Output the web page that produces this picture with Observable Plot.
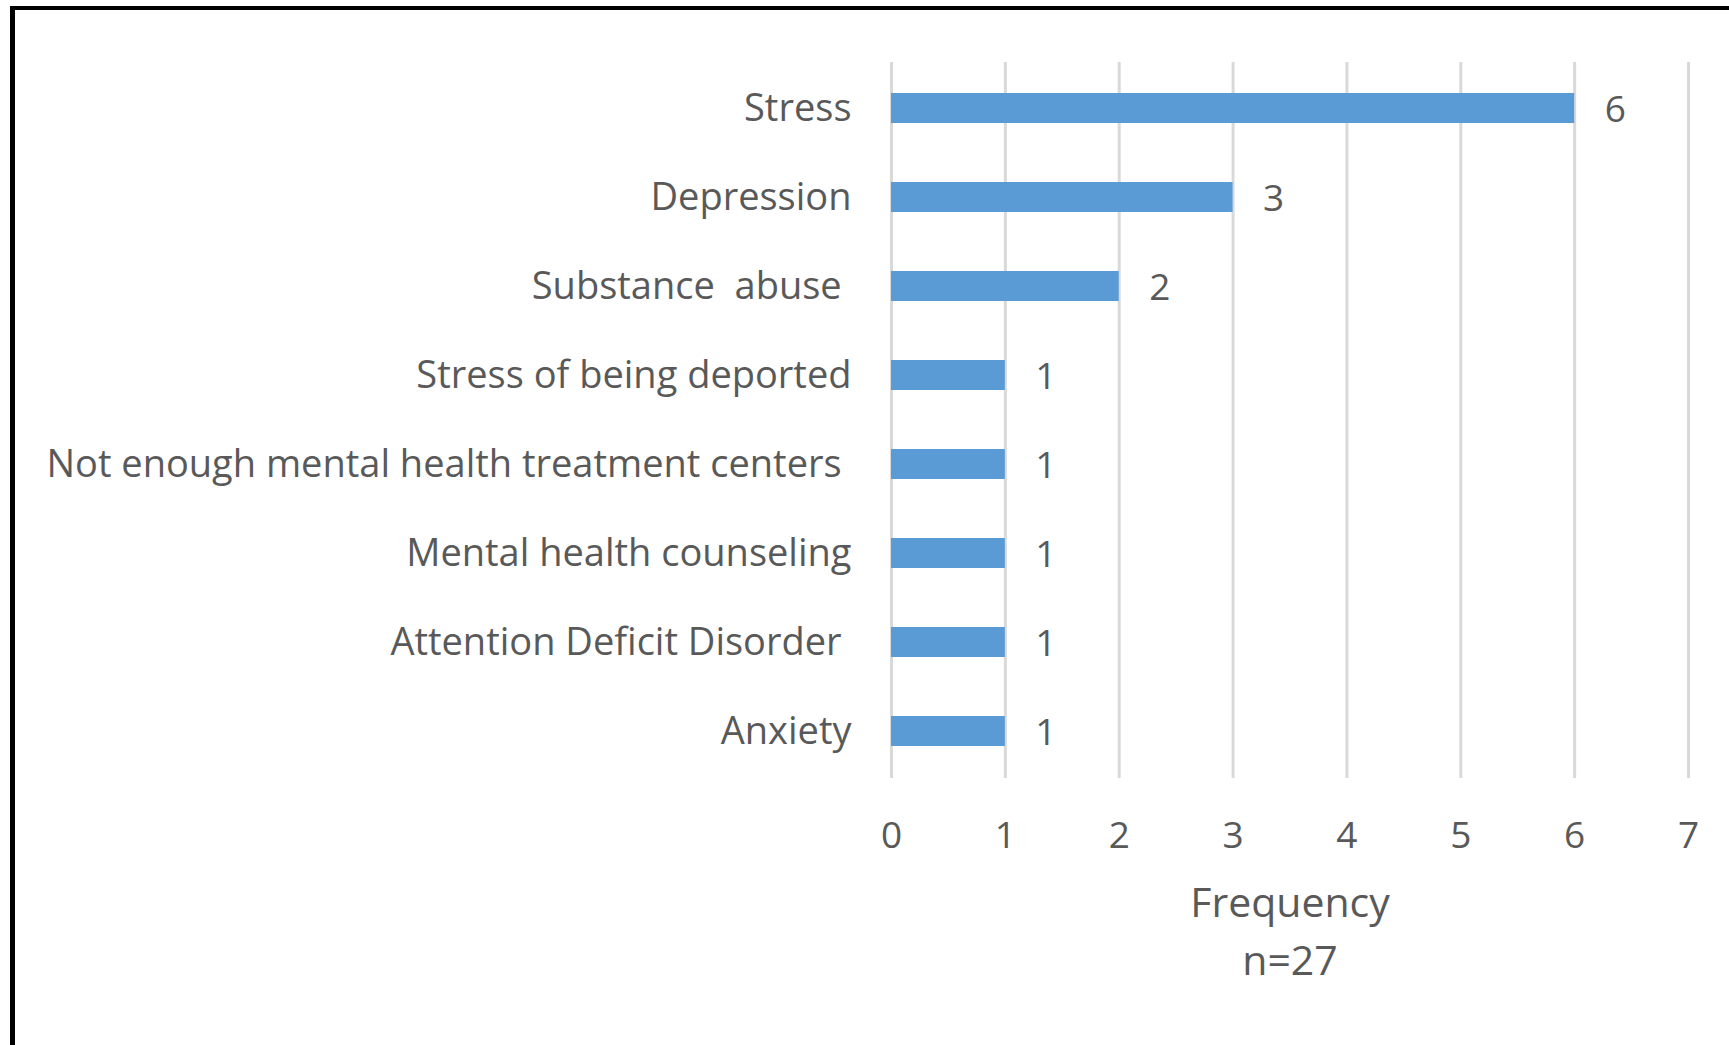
<!DOCTYPE html>
<html>
<head>
<meta charset="utf-8">
<script src="https://cdn.jsdelivr.net/npm/d3@7"></script>
<script src="https://cdn.jsdelivr.net/npm/@observablehq/plot@0.6"></script>
<style>
  html, body { margin: 0; padding: 0; background: #fff; overflow: hidden; }
  #frame {
    position: absolute; left: 10px; top: 6px; width: 1760px; height: 1100px;
    border-left: 5px solid #000; border-top: 4px solid #000; box-sizing: border-box;
  }
  #chart { position: absolute; left: 0; top: 0; }
  #chart svg text { white-space: pre; }
</style>
</head>
<body>
<div id="frame"></div>
<div id="chart"></div>
<script>
const categories = [
  "Stress",
  "Depression",
  "Substance  abuse ",
  "Stress of being deported",
  "Not enough mental health treatment centers ",
  "Mental health counseling",
  "Attention Deficit Disorder ",
  "Anxiety"
];
const values = [6, 3, 2, 1, 1, 1, 1, 1];
const xTicks = [0, 1, 2, 3, 4, 5, 6, 7];
const axisTitle = "Frequency\nn=27";

const data = categories.map((c, i) => ({category: c, value: values[i]}));
const font = "'Open Sans', sans-serif";
const textColor = "#595959";

const chart = Plot.plot({
  width: 1729,
  height: 1045,
  marginLeft: 891,
  marginRight: 41,
  marginTop: 62,
  marginBottom: 267,
  style: {fontFamily: font, background: "transparent", color: textColor},
  x: {domain: [0, 7], ticks: xTicks, label: null},
  y: {domain: categories, paddingInner: 0.66, paddingOuter: 0.33, label: null},
  marks: [
    Plot.ruleX(xTicks, {stroke: "#D9D9D9", strokeWidth: 3}),
    Plot.barX(data, {y: "category", x: "value", fill: "#5B9BD5"}),
    Plot.text(data, {y: "category", x: "value", text: d => String(d.value), dx: 30, dy: 2, textAnchor: "start", fontSize: 37, fill: textColor}),
    Plot.axisX({ticks: xTicks, tickSize: 0, tickPadding: 43, fontSize: 37, fill: textColor, label: null, tickFormat: d => String(d)}),
    Plot.axisY({tickSize: 0, tickPadding: 40, fontSize: 38, fill: textColor, label: null}),
    Plot.text([axisTitle], {frameAnchor: "bottom", dy: 196, fontSize: 41, fill: textColor, lineHeight: 1.4, textAnchor: "middle"})
  ]
});
document.getElementById("chart").append(chart);
</script>
</body>
</html>
